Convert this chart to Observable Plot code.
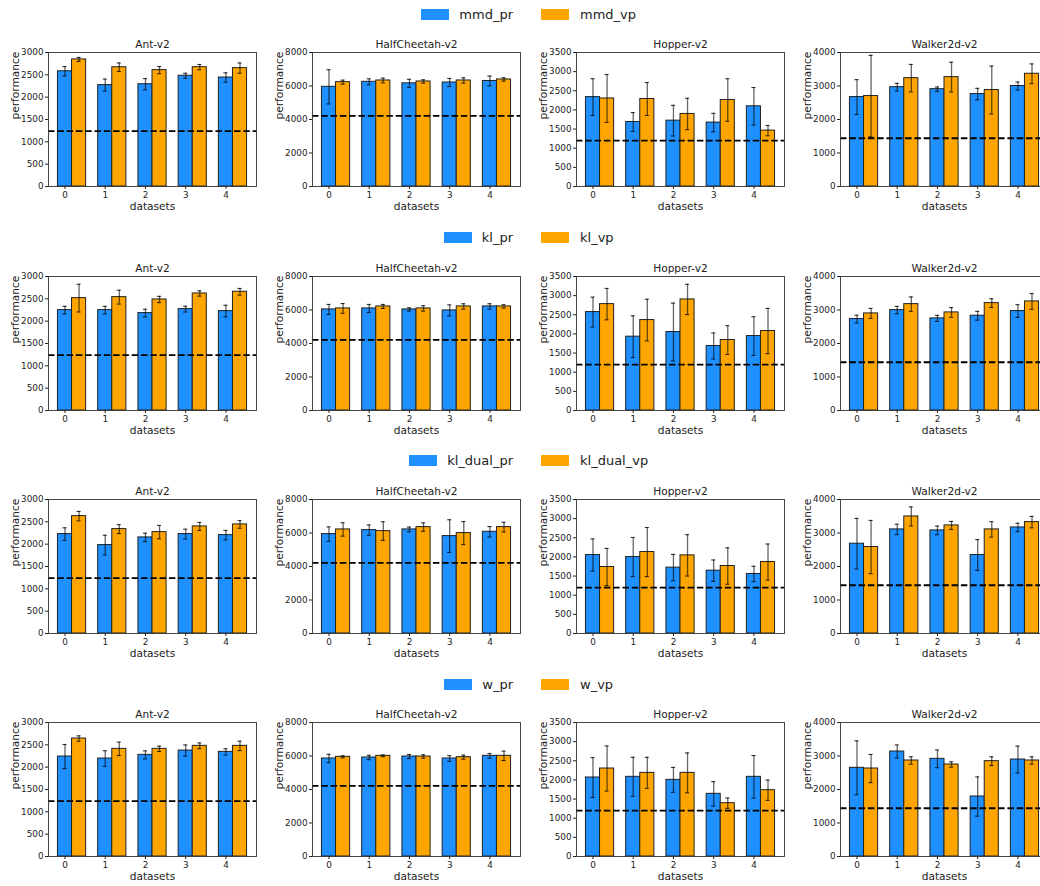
<!DOCTYPE html>
<html>
<head>
<meta charset="utf-8">
<script src="https://cdn.jsdelivr.net/npm/d3@7"></script>
<script src="https://cdn.jsdelivr.net/npm/@observablehq/plot@0.6"></script>
<style>
  html, body { margin: 0; padding: 0; background: white; }
  #fig { position: relative; width: 1040px; height: 886px; overflow: hidden; background: white; font-family: "DejaVu Sans", sans-serif; }
  .panel { position: absolute; width: 262px; }
  .panel svg { max-width: none !important; }
  .leg { position: absolute; display: flex; align-items: center; font-size: 13px; color: #222; white-space: nowrap; height: 14px; }
  .sw { width: 28px; height: 11px; display: inline-block; }
</style>
</head>
<body>
<div id="fig"></div>
<script>
// ---- data ----
const envs = ["Ant-v2", "HalfCheetah-v2", "Hopper-v2", "Walker2d-v2"];
const datasets = [0, 1, 2, 3, 4];
const baseline = [1240, 4220, 1200, 1440];
const yMax = [3000, 8000, 3500, 4000];
const yTicks = [
  [0, 500, 1000, 1500, 2000, 2500, 3000],
  [0, 2000, 4000, 6000, 8000],
  [0, 500, 1000, 1500, 2000, 2500, 3000, 3500],
  [0, 1000, 2000, 3000, 4000]
];
const methods = ["mmd", "kl", "kl_dual", "w"];
const colors = ["#1E90FF", "#FFA500"];

// rows: [Ant], [HalfCheetah], [Hopper], [Walker2d]
const mmd_pr     = [[2580, 2270, 2290, 2480, 2440], [5950, 6250, 6160, 6210, 6300], [2335, 1685, 1720, 1670, 2095], [2670, 2965, 2905, 2760, 3000]];
const mmd_pr_err = [[105, 135, 125, 55, 105], [1020, 180, 240, 240, 290], [480, 245, 400, 240, 490], [520, 115, 65, 170, 120]];
const mmd_vp     = [[2845, 2670, 2605, 2672, 2650], [6230, 6330, 6270, 6330, 6390], [2300, 2285, 1895, 2260, 1460], [2700, 3235, 3265, 2880, 3365]];
const mmd_vp_err = [[45, 95, 80, 60, 115], [120, 140, 100, 160, 100], [625, 430, 410, 555, 135], [1215, 410, 445, 715, 295]];

const kl_pr      = [[2248, 2248, 2181, 2270, 2226], [6034, 6094, 6034, 5975, 6213], [2571, 1928, 2050, 1685, 1945], [2730, 2998, 2750, 2829, 2968]];
const kl_pr_err  = [[85, 85, 85, 65, 130], [300, 240, 100, 330, 160], [390, 545, 755, 340, 505], [115, 110, 90, 130, 190]];
const kl_vp      = [[2516, 2538, 2486, 2620, 2658], [6094, 6213, 6094, 6213, 6213], [2779, 2362, 2901, 1841, 2076], [2898, 3176, 2928, 3206, 3256]];
const kl_vp_err  = [[310, 155, 70, 60, 75], [290, 120, 160, 160, 100], [410, 545, 395, 375, 590], [150, 215, 145, 130, 235]];

const kl_dual_pr     = [[2226, 1980, 2151, 2226, 2203], [5935, 6173, 6213, 5816, 6074], [2050, 1998, 1720, 1641, 1555], [2680, 3107, 3077, 2343, 3166]];
const kl_dual_pr_err = [[140, 220, 95, 110, 105], [430, 310, 140, 975, 310], [420, 510, 345, 280, 200], [755, 155, 130, 460, 125]];
const kl_dual_vp     = [[2628, 2337, 2270, 2397, 2442], [6213, 6114, 6352, 5995, 6352], [1737, 2128, 2041, 1763, 1867], [2581, 3494, 3226, 3107, 3325]];
const kl_dual_vp_err = [[105, 100, 150, 90, 85], [400, 555, 250, 690, 290], [485, 640, 540, 475, 470], [795, 285, 120, 230, 170]];

const w_pr      = [[2238, 2193, 2275, 2372, 2342], [5851, 5910, 5970, 5851, 6010], [2063, 2081, 2002, 1637, 2081], [2647, 3134, 2915, 1791, 2895]];
const w_pr_err  = [[270, 175, 90, 125, 70], [250, 130, 120, 170, 140], [520, 510, 325, 320, 555], [805, 195, 265, 585, 400]];
const w_vp      = [[2641, 2410, 2410, 2477, 2477], [5950, 6010, 5970, 5930, 6010], [2298, 2185, 2185, 1393, 1732], [2627, 2866, 2746, 2846, 2866]];
const w_vp_err  = [[60, 150, 60, 65, 105], [60, 50, 100, 120, 280], [590, 405, 520, 135, 265], [420, 110, 80, 130, 110]];

const seriesData = {
  mmd: [[mmd_pr, mmd_pr_err], [mmd_vp, mmd_vp_err]],
  kl: [[kl_pr, kl_pr_err], [kl_vp, kl_vp_err]],
  kl_dual: [[kl_dual_pr, kl_dual_pr_err], [kl_dual_vp, kl_dual_vp_err]],
  w: [[w_pr, w_pr_err], [w_vp, w_vp_err]]
};

// ---- layout ----
const frameLefts = [48, 312, 576, 840];
const frameTops = [52, 276, 499, 722];
const legendCenters = [14, 237, 460, 684];
const MT = 22, ML = 48, PW = 208, PH = 134, MR = 6, MB = 34;
const barW = 0.35;

const fig = document.getElementById("fig");

function makePanel(method, k) {
  const [[prM, prE], [vpM, vpE]] = seriesData[method];
  const rows = datasets.map((d, i) => ({
    d,
    pr: prM[k][i], prE: prE[k][i],
    vp: vpM[k][i], vpE: vpE[k][i]
  }));
  const errMarks = [];
  [["pr", "prE", 0], ["vp", "vpE", barW]].forEach(([m, e, off]) => {
    errMarks.push(
      Plot.ruleX(rows, {x: r => r.d + off, y1: r => r[m] - r[e], y2: r => r[m] + r[e], stroke: "black", strokeOpacity: 0.6, strokeWidth: 1.3}),
      Plot.ruleY(rows, {y: r => r[m] + r[e], x1: r => r.d + off - 0.05, x2: r => r.d + off + 0.05, stroke: "black", strokeOpacity: 0.8, strokeWidth: 1.1}),
      Plot.ruleY(rows, {y: r => r[m] - r[e], x1: r => r.d + off - 0.05, x2: r => r.d + off + 0.05, stroke: "black", strokeOpacity: 0.8, strokeWidth: 1.1})
    );
  });
  return Plot.plot({
    width: ML + PW + MR,
    height: MT + PH + MB,
    marginLeft: ML, marginRight: MR, marginTop: MT, marginBottom: MB,
    x: {domain: [-0.41, 4.76]},
    y: {domain: [0, yMax[k]]},
    style: {fontFamily: "DejaVu Sans", fontSize: "8.8px", color: "#222", background: "transparent", overflow: "visible"},
    marks: [
      Plot.rectY(rows, {x1: r => r.d - barW / 2, x2: r => r.d + barW / 2, y: "pr", fill: colors[0], stroke: "#222", strokeWidth: 1}),
      Plot.rectY(rows, {x1: r => r.d + barW / 2, x2: r => r.d + 1.5 * barW, y: "vp", fill: colors[1], stroke: "#222", strokeWidth: 1}),
      ...errMarks,
      Plot.ruleY([baseline[k]], {stroke: "black", strokeWidth: 1.8, strokeDasharray: "6.5,2.8"}),
      Plot.frame({stroke: "#333", strokeWidth: 0.9}),
      Plot.axisX({ticks: datasets, tickFormat: d => String(d), tickSize: 3, tickPadding: 2, label: null}),
      Plot.axisY({ticks: yTicks[k], tickFormat: d => String(d), tickSize: 3, tickPadding: 2, label: null}),
      Plot.text([envs[k]], {text: d => d, frameAnchor: "top", dy: -7.5, lineAnchor: "middle", fontSize: 10.6, fill: "#222"}),
      Plot.text(["datasets"], {text: d => d, frameAnchor: "bottom", dy: 20, lineAnchor: "middle", fontSize: 10.6, fill: "#222"}),
      Plot.text(["performance"], {text: d => d, frameAnchor: "left", dx: -33, rotate: -90, lineAnchor: "middle", fontSize: 10.6, fill: "#222"})
    ]
  });
}

methods.forEach((method, r) => {
  // legend
  const left = document.createElement("div");
  left.className = "leg";
  left.style.right = (1040 - 513) + "px";
  left.style.top = (legendCenters[r] - 7) + "px";
  left.innerHTML = `<span class="sw" style="background:${colors[0]}"></span><span style="margin-left:10px">${method}_pr</span>`;
  fig.appendChild(left);
  const right = document.createElement("div");
  right.className = "leg";
  right.style.left = "541px";
  right.style.top = (legendCenters[r] - 7) + "px";
  right.innerHTML = `<span class="sw" style="background:${colors[1]}"></span><span style="margin-left:11px">${method}_vp</span>`;
  fig.appendChild(right);

  envs.forEach((env, k) => {
    const svg = makePanel(method, k);
    const wrap = document.createElement("div");
    wrap.className = "panel";
    wrap.style.left = (frameLefts[k] - ML) + "px";
    wrap.style.top = (frameTops[r] - MT) + "px";
    wrap.appendChild(svg);
    fig.appendChild(wrap);
  });
});
</script>
</body>
</html>
